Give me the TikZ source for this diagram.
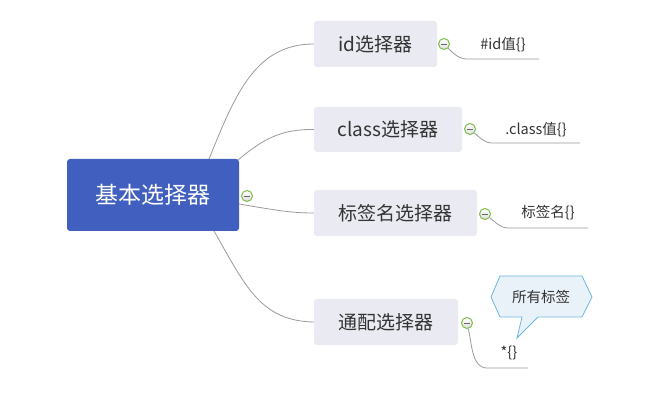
\documentclass[tikz,border=0pt]{standalone}
\usepackage{fontspec}
\setmainfont{Noto Sans CJK SC}
\definecolor{central}{HTML}{405FBE}
\definecolor{topicfill}{HTML}{E9EAF2}
\definecolor{txt}{HTML}{333333}
\definecolor{linec}{HTML}{9A9A9A}
\definecolor{mgreen}{HTML}{7DBB4A}
\definecolor{callfill}{HTML}{EAF2F9}
\definecolor{callline}{HTML}{6DB6DE}
\begin{document}
\begin{tikzpicture}[x=1pt,y=-1pt,
  centralbox/.style={fill=central,rounded corners=3pt,inner sep=0pt,text=white,font=\fontsize{23}{26}\selectfont},
  topicbox/.style={fill=topicfill,rounded corners=3pt,inner sep=0pt,text=txt,font=\fontsize{19}{22}\selectfont},
  leaftext/.style={text=txt,font=\fontsize{14.5}{17}\selectfont,inner sep=0pt},
  conn/.style={draw=linec,line width=0.8pt},
  minusbox/.style={circle,draw=mgreen,line width=1pt,top color=white,bottom color=gray!25,minimum size=11pt,inner sep=0pt},
]
\useasboundingbox (0,0) rectangle (662,406);
% central
\node[centralbox,minimum width=172pt,minimum height=72pt] (c) at (153,195) {基本选择器};
% topics
\node[topicbox,minimum width=123pt,minimum height=46pt] (t1) at (375.5,44) {id选择器};
\node[topicbox,minimum width=148pt,minimum height=45pt] (t2) at (388,129.5) {class选择器};
\node[topicbox,minimum width=163pt,minimum height=46pt] (t3) at (395.5,213) {标签名选择器};
\node[topicbox,minimum width=144pt,minimum height=46pt] (t4) at (386,322) {通配选择器};
% connectors
\coordinate (s1) at (209,159);
\coordinate (s2) at (238,160);
\coordinate (s3) at (239,204);
\coordinate (s4) at (214,231);
\draw[conn] (s1) .. controls (235,95) and (255,44) .. (t1.west);
\draw[conn] (s2) .. controls (262,140) and (280,129) .. (t2.west);
\draw[conn] (s3) .. controls (275,210) and (290,213) .. (t3.west);
\draw[conn] (s4) .. controls (245,285) and (260,321) .. (t4.west);
% minus markers
\node[minusbox] (m0) at (247,196) {};
\draw[black!60,line width=0.8pt] ([xshift=-3pt]m0.center) -- ([xshift=3pt]m0.center);
% leaves
\coordinate (e1a) at (467,59); \coordinate (e1b) at (539,59);
\coordinate (e2a) at (492,143); \coordinate (e2b) at (580,143);
\coordinate (e3a) at (508,228); \coordinate (e3b) at (588,228);
\coordinate (e4a) at (487,368); \coordinate (e4b) at (528,368);
\node[minusbox] (m1) at (444,44) {};
\node[minusbox] (m2) at (470,129) {};
\node[minusbox] (m3) at (485,214) {};
\node[minusbox] (m4) at (467,323) {};
\draw[conn] (m1) .. controls (452,52) and (458,59) .. (e1a) -- (e1b);
\draw[conn] (m2) .. controls (478,136) and (484,143) .. (e2a) -- (e2b);
\draw[conn] (m3) .. controls (494,221) and (500,228) .. (e3a) -- (e3b);
\draw[conn] (m4) .. controls (472,345) and (472,368) .. (e4a) -- (e4b);
\foreach \m in {m1,m2,m3,m4}{
  \draw[black!60,line width=0.8pt] ([xshift=-3pt]\m.center) -- ([xshift=3pt]\m.center);
}
\node[leaftext] (l1) at (503,45) {\#id值\{\}};
\node[leaftext] (l2) at (536,130) {.class值\{\}};
\node[leaftext] (l3) at (548,213) {标签名\{\}};
\node[leaftext] (l4) at (509,353) {*\{\}};
% callout
\draw[fill=callfill,draw=callline,line width=0.8pt] (491,297) -- (500,276) -- (582,276) -- (592,297) -- (582,317) -- (538,317) -- (517,338) -- (522,317) -- (500,317) -- cycle;
\node[leaftext] (co) at (541,297) {所有标签};
\end{tikzpicture}
\end{document}
